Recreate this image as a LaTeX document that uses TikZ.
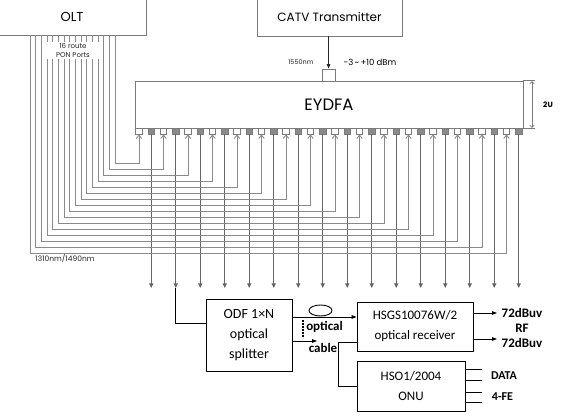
\documentclass[tikz,border=0pt]{standalone}
\usepackage{fontspec}
\setmainfont{Carlito}
\newfontfamily\geofont{Poppins}
\usetikzlibrary{arrows.meta, shapes.geometric}
\definecolor{frame-gray}{HTML}{7A7A7A}
\definecolor{fiber-gray}{HTML}{8A8A8A}
\definecolor{drop-gray}{HTML}{666666}
\definecolor{port-fill}{HTML}{8A8A8A}

\tikzset{
  unitbox/.style={draw=frame-gray, line width=0.9pt, inner sep=0pt},
  devbox/.style={draw=black, line width=0.9pt, align=center, font=\fontsize{13}{20}\selectfont},
  inport/.style={draw=frame-gray, fill=white, line width=0.6pt, minimum width=6.5pt, minimum height=6pt, inner sep=0pt},
  outport/.style={draw=frame-gray, fill=port-fill, line width=0.6pt, minimum width=6.5pt, minimum height=6pt, inner sep=0pt},
  fiber/.style={draw=fiber-gray, line width=0.9pt, -{Straight Barb[length=3.5pt, width=5.5pt]}},
  dropline/.style={draw=drop-gray, line width=0.9pt, -{Triangle[length=4.5pt, width=4pt]}},
  link/.style={draw=black, line width=0.9pt},
  boldlabel/.style={font=\bfseries\fontsize{13}{14}\selectfont, inner sep=1pt},
  smallnote/.style={font=\geofont\fontsize{7}{8}\selectfont, text=black!85, inner sep=1pt}
}

\begin{document}
\begin{tikzpicture}[x=1pt, y=-1pt]
    % Diagram: OLT + CATV feeding an EYDFA, one output to splitter, receiver and ONU.
    % Coordinates: (x, y) in pixels, y grows down
    %   OLT box x -2..146, y -2..35; CATV box x 257..402, y -2..36
    %   EYDFA x 135..523, y 81..128, 16 port pairs below it, pitch 24.5
    %   OLT fibre i leaves at x=115-5.67(i-1), turns at y=163+6(i-1)
    %   drops end at y=288
    \useasboundingbox (0,0) rectangle (574,417);

    \node[unitbox, minimum width=148pt, minimum height=37pt,
          font=\geofont\fontsize{13}{14}\selectfont] (olt) at (72,16.5) {OLT};
    \node[unitbox, minimum width=145pt, minimum height=38pt,
          font=\geofont\fontsize{12}{14}\selectfont] (catv) at (329.5,17) {CATV Transmitter};
    \node[unitbox, minimum width=388pt, minimum height=47pt,
          font=\geofont\fontsize{16.5}{18}\selectfont] (eydfa) at (329,104.5) {EYDFA};
    \node[unitbox, minimum width=13pt, minimum height=12pt] (cport) at (328.5,75) {};
    \draw[link, draw=black!85, -{Triangle[length=4.5pt, width=3.6pt]}] (catv.south -| cport) -- (cport.north);
    \node[smallnote, font=\geofont\fontsize{6.5}{8}\selectfont] (wave) at (301,62) {1550nm};
    \node[font=\geofont\fontsize{8.5}{10}\selectfont, inner sep=1pt] (power) at (370,62) {-3\,\textasciitilde\,+10 dBm};

    % 2U height mark
    \coordinate (dimtop) at (532,81);
    \coordinate (dimbot) at (532,128);
    \draw[draw=frame-gray, line width=0.6pt] (eydfa.north east) -- ++(12,0);
    \draw[draw=frame-gray, line width=0.6pt] (eydfa.south east) -- ++(12,0);
    \draw[draw=frame-gray, line width=0.7pt, {Straight Barb[length=2.5pt, width=4.5pt]}-{Straight Barb[length=2.5pt, width=4.5pt]}] (dimtop) -- (dimbot);
    \node[font=\geofont\bfseries\fontsize{7.5}{8}\selectfont] (twou) at (548,105) {2U};

    % ports, OLT fibres and drops
    \foreach \i in {1,...,16} {
      \pgfmathsetmacro\xin{139+(\i-1)*24.5}
      \pgfmathsetmacro\xout{\xin+12.25}
      \pgfmathsetmacro\xolt{115-(\i-1)*5.67}
      \pgfmathsetmacro\ylev{163+(\i-1)*6}
      \node[inport] (in\i) at (\xin,131) {};
      \node[outport] (out\i) at (\xout,131) {};
      \coordinate (olt\i) at (\xolt,35);
      \coordinate (bend\i) at (\xolt,\ylev);
      \coordinate (drop\i) at (\xout,288);
      \draw[fiber] (olt\i) -- (bend\i) -| (in\i.south);
      \draw[dropline] (out\i.south) -- (drop\i);
    }
    \node[smallnote, fill=white, minimum width=52pt, minimum height=17pt, align=center,
          font=\geofont\fontsize{7}{8.5}\selectfont] (ponlabel) at (73,50.5) {16 route\\PON Ports};
    \node[smallnote, font=\geofont\fontsize{7.5}{9}\selectfont] (uplabel) at (65,259) {1310nm/1490nm};

    % access side
    \node[devbox, minimum width=86pt, minimum height=72pt,
          font=\fontsize{14}{20}\selectfont] (splitter) at (249,335) {ODF 1×N\\optical\\splitter};
    \node[devbox, minimum width=116pt, minimum height=49pt] (receiver) at (415,326.5) {HSGS10076W/2\\optical receiver};
    \node[devbox, minimum width=108pt, minimum height=50pt] (onu) at (411,386) {HSO1/2004\\ONU};

    \draw[link] (drop2) |- ([yshift=12pt]splitter.west);
    \draw[link, -{Triangle[length=5pt, width=3.6pt]}] ([yshift=18pt]splitter.east) -- ([yshift=18pt]splitter.east -| receiver.west);
    \node[ellipse, draw=black, line width=0.9pt, minimum width=23pt, minimum height=11pt, inner sep=0pt] (cablering) at (320.5,310.5) {};
    \coordinate (cableend) at (317,341);
    \draw[link, -{Triangle[length=5pt, width=3.6pt]}] ([yshift=-6pt]splitter.east) -- (cableend -| splitter.east) -- (cableend);
    \draw[black, line width=1.6pt, dash pattern=on 1.6pt off 1.4pt] (303,320) -- (303,338);
    \node[boldlabel] (optlabel) at (324.5,327) {optical};
    \node[boldlabel] (cablabel) at (323,348) {cable};

    \draw[link] ([yshift=-15.5pt]receiver.west) -- ++(-18,0) |- (onu.west);

    \node[boldlabel] (rfhi) at (522,312.5) {72dBuv};
    \node[boldlabel] (rftag) at (522,328) {RF};
    \node[boldlabel] (rflo) at (522,343) {72dBuv};
    \coordinate (rfhiend) at (497,313);
    \coordinate (rfloend) at (497,339);
    \draw[link, -{Triangle[length=5pt, width=3.6pt]}] (receiver.east |- rfhiend) -- (rfhiend);
    \draw[link, -{Triangle[length=5pt, width=3.6pt]}] (receiver.east |- rfloend) -- (rfloend);

    \foreach \dy in {17,6,-6,-16}
      \draw[link] ([yshift=\dy pt]onu.east) -- ++(17,0);
    \node[boldlabel, font=\bfseries\fontsize{12}{14}\selectfont] (datalabel) at (504,376) {DATA};
    \node[boldlabel, font=\bfseries\fontsize{12}{14}\selectfont] (felabel) at (502.5,397) {4-FE};
  \end{tikzpicture}
\end{document}
